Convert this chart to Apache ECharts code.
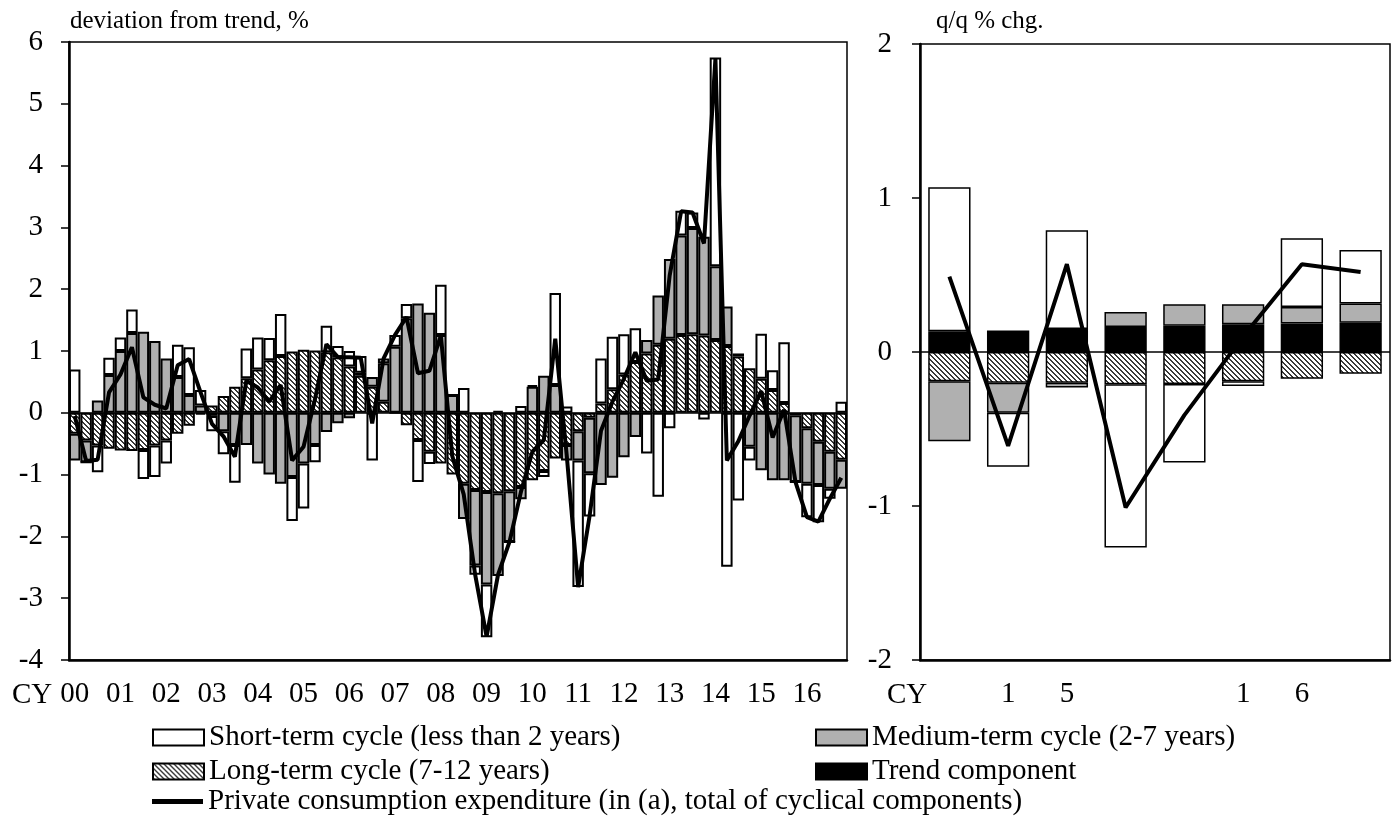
<!DOCTYPE html>
<html>
<head>
<meta charset="utf-8">
<script src="https://cdn.jsdelivr.net/npm/echarts@6/dist/echarts.min.js"></script>
<style>
  html, body { margin: 0; padding: 0; background: #fff; }
  #chart { width: 1399px; height: 816px; }
</style>
</head>
<body>
<div id="chart"></div>
<script>
// (a) quarterly, CY2000 - CY2016
const years = ['00','01','02','03','04','05','06','07','08','09','10','11','12','13','14','15','16']
const quarters = years.flatMap(y => [y + 'Q1', y + 'Q2', y + 'Q3', y + 'Q4'])

const longCycle = [
  -0.34, -0.45, -0.53, -0.58,  -0.61, -0.62, -0.60, -0.53,
  -0.45, -0.34, -0.21, -0.03,   0.12,  0.27,  0.42,  0.56,
   0.70,  0.85,  0.92,  0.99,   1.02,  1.01,  0.98,  0.90,
   0.75,  0.60,  0.42,  0.18,   0.00, -0.20, -0.44, -0.63,
  -0.82, -1.00, -1.15, -1.25,  -1.28, -1.30, -1.27, -1.20,
  -1.09, -0.94, -0.74, -0.52,  -0.30, -0.08,  0.15,  0.38,
   0.62,  0.82,  0.96,  1.10,   1.20,  1.26,  1.27,  1.25,
   1.18,  1.08,  0.91,  0.72,   0.55,  0.37,  0.16, -0.04,
  -0.25, -0.47, -0.63, -0.76
]
const mediumCycle = [
  -0.43, -0.35,  0.20,  0.61,   1.00,  1.29,  1.31,  1.16,
   0.88,  0.58,  0.29,  0.12,  -0.05, -0.30, -0.52, -0.52,
  -0.82, -1.00, -1.15, -1.04,  -0.82, -0.52, -0.31, -0.17,
  -0.09,  0.05,  0.16,  0.62,   1.07,  1.53,  1.77,  1.62,
   1.26,  0.29, -0.57, -1.22,  -1.50, -1.34, -0.82, -0.20,
   0.42,  0.60,  0.45, -0.25,  -0.47, -0.90, -1.17, -1.05,
  -0.72, -0.39,  0.22,  0.80,   1.29,  1.61,  1.72,  1.60,
   1.19,  0.64,  0.05, -0.55,  -0.93, -1.09, -1.09, -1.08,
  -0.90, -0.70, -0.60, -0.47
]
const shortCycle = [
   0.70,  0.00, -0.43,  0.28,   0.22,  0.38, -0.47, -0.51,
  -0.37,  0.52,  0.77,  0.25,  -0.25, -0.37, -0.61,  0.48,
   0.52,  0.36,  0.68, -0.71,  -0.73, -0.28,  0.43,  0.18,
   0.25,  0.27, -0.77,  0.08,   0.19,  0.23, -0.68, -0.20,
   0.81,  0.00,  0.40, -0.15,  -0.85,  0.03,  0.00,  0.11,
   0.03, -0.10,  1.49,  0.10,  -2.05, -0.70,  0.73,  0.85,
   0.65,  0.55, -0.66, -1.36,  -0.25,  0.40,  0.25, -0.11,
   3.38, -2.49, -1.42, -0.22,   0.73,  0.32,  0.98,  0.00,
  -0.54, -0.60, -0.16,  0.18
]
const consumption = [
  -0.05, -0.78, -0.76,  0.33,   0.62,  1.06,  0.25,  0.13,
   0.07,  0.77,  0.87,  0.33,  -0.18, -0.38, -0.71,  0.52,
   0.41,  0.18,  0.45, -0.77,  -0.55,  0.22,  1.11,  0.90,
   0.90,  0.89, -0.17,  0.88,   1.26,  1.55,  0.64,  0.68,
   1.25, -0.70, -1.32, -2.62,  -3.62, -2.62, -2.09, -1.28,
  -0.63, -0.44,  1.20, -0.68,  -2.82, -1.67, -0.29,  0.18,
   0.55,  0.98,  0.52,  0.54,   2.22,  3.26,  3.24,  2.74,
   5.73, -0.77, -0.46, -0.04,   0.35, -0.40,  0.05, -1.12,
  -1.69, -1.76, -1.39, -1.05
]

// (b) q/q % chg.
const periodsB = ['p1', 'p2', 'p3', 'p4', 'p5', 'p6', 'p7', 'p8']
const periodLabelsB = ['', '1', '5', '', '', '1', '6', '']
const trendB = [0.135, 0.14, 0.15, 0.163, 0.17, 0.18, 0.185, 0.19]
const longB = [-0.19, -0.20, -0.20, -0.21, -0.207, -0.19, -0.174, -0.141]
const mediumB = [-0.39, -0.195, -0.03, 0.097, 0.14, 0.13, 0.108, 0.125]
const shortB = [0.935, -0.35, 0.64, -1.06, -0.51, -0.03, 0.446, 0.348]
const consumptionB = [0.49, -0.61, 0.57, -1.01, -0.41, 0.10, 0.57, 0.52]

const N_SHORT = 'Short-term cycle (less than 2 years)'
const N_MED = 'Medium-term cycle (2-7 years)'
const N_LONG = 'Long-term cycle (7-12 years)'
const N_TREND = 'Trend component'
const N_LINE = 'Private consumption expenditure (in (a), total of cyclical components)'

const FONT = '"Liberation Serif", "Times New Roman", serif'
const FS = 29

// diagonal hatch for the long-term cycle
function makeHatch () {
  const size = 5
  const c = document.createElement('canvas')
  c.width = size
  c.height = size
  const ctx = c.getContext('2d')
  ctx.fillStyle = '#fff'
  ctx.fillRect(0, 0, size, size)
  ctx.fillStyle = '#3a3a3a'
  for (let y = 0; y < size; y++) {
    for (let x = 0; x < size; x++) {
      if ((((x - y) % size) + size) % size < 2) ctx.fillRect(x, y, 1, 1)
    }
  }
  return { image: c, repeat: 'repeat' }
}
const hatch = makeHatch()

const zeroLine = {
  silent: true,
  symbol: ['none', 'none'],
  label: { show: false },
  lineStyle: { color: '#000', width: 1.5, type: 'solid' },
  data: [{ yAxis: 0 }]
}

const axisText = { color: '#000', fontSize: FS, fontFamily: FONT }

function barSeries (name, data, color, axis, stack, gap, bw) {
  return {
    name: name,
    type: 'bar',
    xAxisIndex: axis,
    yAxisIndex: axis,
    stack: stack,
    barCategoryGap: gap,
    data: data,
    itemStyle: { color: color, borderColor: '#000', borderWidth: bw },
    emphasis: { disabled: true }
  }
}

let myChart = echarts.init(document.getElementById('chart'), null, { renderer: 'canvas' })

let option
option = {
  animation: false,
  textStyle: { fontFamily: FONT },
  grid: [
    { left: 69, top: 42, width: 778, height: 618, show: true, borderColor: '#000', borderWidth: 1.5, outerBoundsMode: 'none' },
    { left: 920, top: 44, width: 470, height: 616, show: true, borderColor: '#000', borderWidth: 1.5, outerBoundsMode: 'none' }
  ],
  xAxis: [
    {
      type: 'category',
      gridIndex: 0,
      data: quarters,
      boundaryGap: true,
      axisLine: { onZero: false, lineStyle: { color: '#000', width: 2.5 } },
      axisTick: { inside: true, length: 8, interval: 3, lineStyle: { color: '#000', width: 1.5 } },
      axisLabel: Object.assign({ interval: 3, margin: 20, formatter: v => v.slice(0, 2) }, axisText),
      splitLine: { show: false }
    },
    {
      type: 'category',
      gridIndex: 1,
      data: periodsB,
      boundaryGap: true,
      axisLine: { onZero: false, lineStyle: { color: '#000', width: 2.5 } },
      axisTick: { inside: true, length: 10, interval: (i) => i === 4, lineStyle: { color: '#000', width: 1.5 } },
      axisLabel: Object.assign({ interval: 0, margin: 20, formatter: (v, i) => periodLabelsB[i] }, axisText),
      splitLine: { show: false }
    }
  ],
  yAxis: [
    {
      type: 'value',
      gridIndex: 0,
      min: -4,
      max: 6,
      interval: 1,
      axisLine: { show: true, onZero: false, lineStyle: { color: '#000', width: 2.5 } },
      axisTick: { show: true, length: 8, lineStyle: { color: '#000', width: 1.5 } },
      axisLabel: Object.assign({ margin: 26 }, axisText),
      splitLine: { show: false }
    },
    {
      type: 'value',
      gridIndex: 1,
      min: -2,
      max: 2,
      interval: 1,
      axisLine: { show: true, onZero: false, lineStyle: { color: '#000', width: 2.5 } },
      axisTick: { show: true, length: 8, lineStyle: { color: '#000', width: 1.5 } },
      axisLabel: Object.assign({ margin: 28 }, axisText),
      splitLine: { show: false }
    }
  ],
  legend: [
    {
      orient: 'vertical', left: 152, top: 723, padding: 0, icon: 'rect',
      itemWidth: 51, itemHeight: 16, itemGap: 5,
      selectedMode: false, data: [N_SHORT, N_LONG],
      itemStyle: { borderColor: '#000', borderWidth: 2 },
      textStyle: axisText
    },
    {
      orient: 'vertical', left: 815, top: 723, padding: 0, icon: 'rect',
      itemWidth: 51, itemHeight: 16, itemGap: 5,
      selectedMode: false, data: [N_MED, N_TREND],
      itemStyle: { borderColor: '#000', borderWidth: 2 },
      textStyle: axisText
    },
    {
      orient: 'vertical', left: 152, top: 787, padding: 0, icon: 'rect',
      itemWidth: 51, itemHeight: 5,
      selectedMode: false, data: [N_LINE],
      itemStyle: { color: '#000', borderWidth: 0 },
      textStyle: axisText
    }
  ],
  graphic: [
    { type: 'text', left: 70, top: 9, style: { text: 'deviation from trend, %', font: '25px ' + FONT, fill: '#000' } },
    { type: 'text', left: 936, top: 9, style: { text: 'q/q % chg.', font: '25px ' + FONT, fill: '#000' } },
    { type: 'text', left: 12, top: 681, style: { text: 'CY', font: FS + 'px ' + FONT, fill: '#000' } },
    { type: 'text', left: 887, top: 681, style: { text: 'CY', font: FS + 'px ' + FONT, fill: '#000' } }
  ],
  series: [
    barSeries(N_LONG, longCycle, hatch, 0, 'a', '0%', 2),
    barSeries(N_MED, mediumCycle, '#b0b0b0', 0, 'a', '0%', 2),
    barSeries(N_SHORT, shortCycle, '#fff', 0, 'a', '0%', 2),
    {
      name: N_LINE,
      type: 'line',
      xAxisIndex: 0,
      yAxisIndex: 0,
      data: consumption,
      symbol: 'none',
      z: 5,
      lineStyle: { color: '#000', width: 4 },
      itemStyle: { color: '#000' },
      markLine: zeroLine
    },
    barSeries(N_TREND, trendB, '#000', 1, 'b', '28%', 1.5),
    barSeries(N_LONG, longB, hatch, 1, 'b', '28%', 1.5),
    barSeries(N_MED, mediumB, '#b0b0b0', 1, 'b', '28%', 1.5),
    barSeries(N_SHORT, shortB, '#fff', 1, 'b', '28%', 1.5),
    {
      name: N_LINE,
      type: 'line',
      xAxisIndex: 1,
      yAxisIndex: 1,
      data: consumptionB,
      symbol: 'none',
      z: 5,
      lineStyle: { color: '#000', width: 4 },
      itemStyle: { color: '#000' },
      markLine: zeroLine
    }
  ]
}
myChart.setOption(option)
</script>
</body>
</html>
